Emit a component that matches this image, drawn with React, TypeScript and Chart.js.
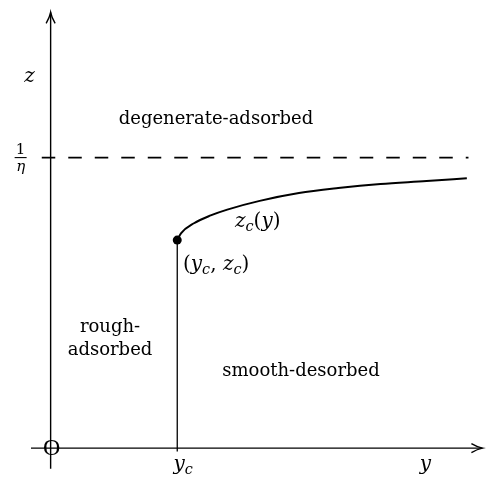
import React, { useEffect, useRef } from "react";
import { Chart, registerables } from "chart.js";
Chart.register(...registerables);

// critical line z_c(y)
const curveY = [1.0, 1.031, 1.132, 1.264, 1.395, 1.651, 1.961, 2.271, 2.605, 2.969, 3.287];
const curveZ = [0.716, 0.74, 0.774, 0.801, 0.821, 0.851, 0.878, 0.895, 0.909, 0.919, 0.929];
// critical point
const yc = 1.0;
const zc = 0.716;
// asymptote z = 1/eta
const zInf = 1.0;
const dashYRange = [-0.07, 3.3];
// axes extents
const yAxisRange = [-0.155, 3.41];
const zAxisRange = [-0.071, 1.5];

const SERIF = '"DejaVu Serif", "Liberation Serif", serif';

type Part = { t: string; it?: boolean; sub?: boolean };

function drawRich(ctx: CanvasRenderingContext2D, x: number, y: number, parts: Part[], size: number, align: "left" | "center" = "center") {
  const fontFor = (p: Part) => `${p.it ? "italic " : ""}${p.sub ? size * 0.72 : size}px ${SERIF}`;
  let w = 0;
  for (const p of parts) {
    ctx.font = fontFor(p);
    w += ctx.measureText(p.t).width;
  }
  let cx = align === "center" ? x - w / 2 : x;
  ctx.textBaseline = "alphabetic";
  ctx.textAlign = "left";
  for (const p of parts) {
    ctx.font = fontFor(p);
    ctx.fillText(p.t, cx, p.sub ? y + size * 0.2 : y);
    cx += ctx.measureText(p.t).width;
  }
}

const overlay = {
  id: "overlay",
  afterDatasetsDraw(chart: any) {
    const { ctx, scales } = chart;
    const X = (v: number) => scales.x.getPixelForValue(v);
    const Y = (v: number) => scales.y.getPixelForValue(v);
    ctx.save();
    ctx.strokeStyle = "#000";
    ctx.fillStyle = "#000";
    ctx.lineWidth = 1.4;
    // arrow heads
    const tx = X(0), ty = Y(zAxisRange[1]);
    ctx.beginPath();
    ctx.moveTo(tx - 4.5, ty + 11);
    ctx.quadraticCurveTo(tx - 1, ty + 5, tx, ty);
    ctx.quadraticCurveTo(tx + 1, ty + 5, tx + 4.5, ty + 11);
    ctx.stroke();
    const ax = X(yAxisRange[1]), ay = Y(0);
    ctx.beginPath();
    ctx.moveTo(ax - 11, ay - 4.5);
    ctx.quadraticCurveTo(ax - 5, ay - 1, ax, ay);
    ctx.quadraticCurveTo(ax - 5, ay + 1, ax - 11, ay + 4.5);
    ctx.stroke();

    // origin O
    ctx.font = `24px "Liberation Serif", serif`;
    ctx.textAlign = "center";
    ctx.textBaseline = "middle";
    ctx.fillText("O", X(0) + 1, Y(0) + 1);

    // axis labels
    drawRich(ctx, X(0) - 21, Y(1.26), [{ t: "z", it: true }], 20);
    drawRich(ctx, X(2.96), Y(0) + 22, [{ t: "y", it: true }], 20);
    drawRich(ctx, X(yc) + 6, Y(0) + 22, [{ t: "y", it: true }, { t: "c", it: true, sub: true }], 20);

    // 1/eta
    const fx = X(0) - 30;
    ctx.font = `15px ${SERIF}`;
    ctx.textAlign = "center";
    ctx.textBaseline = "alphabetic";
    ctx.fillText("1", fx, Y(zInf) - 4);
    ctx.lineWidth = 1.1;
    ctx.beginPath();
    ctx.moveTo(fx - 6, Y(zInf));
    ctx.lineTo(fx + 6, Y(zInf));
    ctx.stroke();
    ctx.font = `italic 15px ${SERIF}`;
    ctx.fillText("η", fx, Y(zInf) + 13);

    // region labels
    drawRich(ctx, 216, 124, [{ t: "degenerate-adsorbed" }], 18);
    drawRich(ctx, 110, 332, [{ t: "rough-" }], 18);
    drawRich(ctx, 110, 355, [{ t: "adsorbed" }], 18);
    drawRich(ctx, 301, 376, [{ t: "smooth-desorbed" }], 18);

    // curve labels
    drawRich(ctx, 235, 227, [{ t: "z", it: true }, { t: "c", it: true, sub: true }, { t: "(" }, { t: "y", it: true }, { t: ")" }], 20, "left");
    drawRich(ctx, 183, 270, [{ t: "(" }, { t: "y", it: true }, { t: "c", it: true, sub: true }, { t: ", " }, { t: "z", it: true }, { t: "c", it: true, sub: true }, { t: ")" }], 20, "left");
    ctx.restore();
  },
};

export default function App() {
  const ref = useRef<HTMLCanvasElement>(null);
  useEffect(() => {
    if (!ref.current) return;
    const line = (data: { x: number; y: number }[], extra: any = {}) => ({
      type: "line",
      data,
      borderColor: "#000",
      backgroundColor: "#000",
      borderWidth: 1.4,
      pointRadius: 0,
      fill: false,
      ...extra,
    });
    const chart = new Chart(ref.current, {
      type: "scatter",
      data: {
        datasets: [
          line([{ x: 0, y: zAxisRange[0] }, { x: 0, y: zAxisRange[1] }]),
          line([{ x: yAxisRange[0], y: 0 }, { x: yAxisRange[1], y: 0 }]),
          line([{ x: dashYRange[0], y: zInf }, { x: dashYRange[1], y: zInf }], { borderDash: [13.5, 13], borderWidth: 1.8 }),
          line([{ x: yc, y: -0.012 }, { x: yc, y: zc }], { borderWidth: 1.3 }),
          line(curveY.map((v, i) => ({ x: v, y: curveZ[i] })), { borderWidth: 2, cubicInterpolationMode: "monotone" }),
          { type: "scatter", data: [{ x: yc, y: zc }], pointRadius: 4.5, pointBackgroundColor: "#000", pointBorderColor: "#000", pointBorderWidth: 0 },
        ] as any,
      },
      options: {
        animation: false,
        responsive: false,
        maintainAspectRatio: false,
        layout: { padding: 0 },
        plugins: { legend: { display: false }, tooltip: { enabled: false } },
        scales: {
          x: { type: "linear", min: -0.3643, max: 3.4186, display: false },
          y: { type: "linear", min: -0.1047, max: 1.527, display: false },
        },
      },
      plugins: [overlay],
    });
    return () => chart.destroy();
  }, []);
  return (
    <div style={{ position: "absolute", left: 0, top: 0, width: 488, height: 483, background: "#fff" }}>
      <canvas ref={ref} width={488} height={483} style={{ display: "block", width: 488, height: 483 }} />
    </div>
  );
}
